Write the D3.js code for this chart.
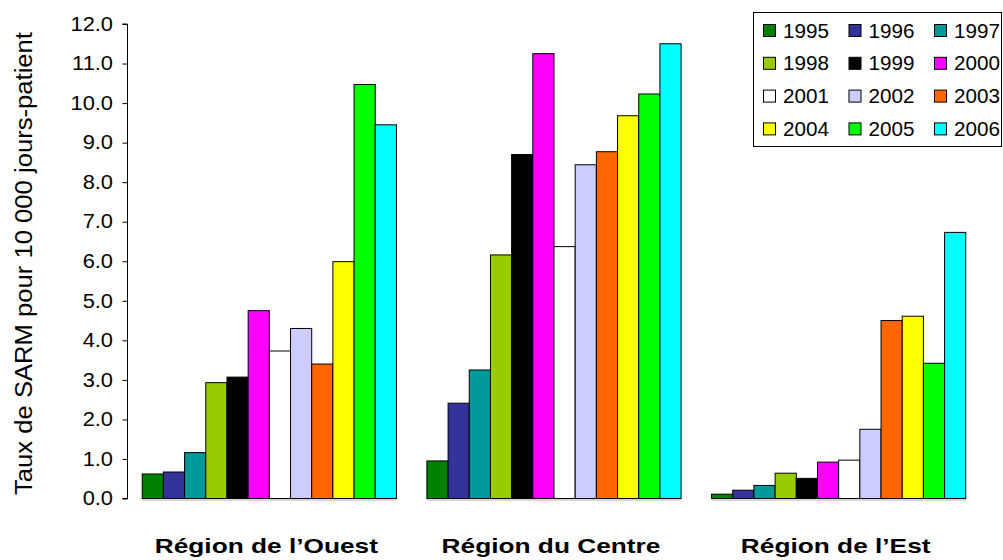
<!DOCTYPE html>
<html><head><meta charset="utf-8">
<script src="https://cdn.jsdelivr.net/npm/d3@7"></script>
<style>body{margin:0;background:#fff}svg{display:block}text{font-family:"Liberation Sans",Arial,sans-serif}</style>
</head><body><svg id="c" width="1003" height="560"></svg>
<script>
const regions = ["Région de l’Ouest", "Région du Centre", "Région de l’Est"];
const years = ["1995","1996","1997","1998","1999","2000","2001","2002","2003","2004","2005","2006"];
const colors = ["#008000","#333399","#009999","#99CC00","#000000","#FF00FF","#FFFFFF","#CCCCFF","#FF6600","#FFFF00","#00FF00","#00FFFF"];
const ouest = [0.62,0.67,1.16,2.93,3.07,4.75,3.73,4.30,3.40,5.99,10.47,9.45];
const centre = [0.95,2.41,3.25,6.16,8.70,11.25,6.37,8.44,8.77,9.68,10.23,11.50];
const est = [0.11,0.21,0.33,0.64,0.51,0.92,0.97,1.75,4.50,4.61,3.42,6.73];
const yTicks = [0,1,2,3,4,5,6,7,8,9,10,11,12];
const yTitle = "Taux de SARM pour 10 000 jours-patient";
const series = [ouest, centre, est];

function stretch(sel, k) {
  sel.each(function(){
    const l = this.getComputedTextLength();
    d3.select(this).attr("textLength", l * k).attr("lengthAdjust", "spacingAndGlyphs");
  });
}

const svg = d3.select("#c");
const x0 = d3.scaleBand().domain(regions).range([127, 981]).paddingInner(0.107).paddingOuter(0.0535);
const x1 = d3.scaleBand().domain(years).range([0, x0.bandwidth()]);
const y = d3.scaleLinear().domain([0, 12]).range([498.5, 24]);

// y axis
const yAxis = d3.axisLeft(y).tickValues(yTicks).tickFormat(d3.format(".1f")).tickSize(5).tickPadding(9.5);
const ga = svg.append("g").attr("transform", "translate(127.5,0)").call(yAxis);
ga.select(".domain").attr("stroke", "#000").attr("d", "M-5," + y(12) + "H0V" + y(0) + "H-5");
ga.selectAll(".tick line").attr("stroke", "#000");
const tt = ga.selectAll(".tick text").attr("font-size", 19.5).attr("fill", "#000")
  .style("font-family", "'Liberation Sans',Arial,sans-serif");
stretch(tt, 1.12);

// bars
const groups = svg.selectAll("g.grp").data(regions).enter().append("g").attr("class","grp")
  .attr("transform", d => `translate(${x0(d)},0)`);
groups.append("line")
  .attr("x1", 0).attr("x2", x0.bandwidth()).attr("y1", y(0)+1.5).attr("y2", y(0)+1.5)
  .attr("stroke", "#d8d8d8").attr("stroke-width", 2);
groups.each(function(r, gi){
  d3.select(this).selectAll("rect").data(series[gi]).enter().append("rect")
    .attr("x", (d,i) => x1(years[i]))
    .attr("y", d => y(d))
    .attr("width", x1.bandwidth())
    .attr("height", d => y(0) - y(d))
    .attr("fill", (d,i) => colors[i])
    .attr("stroke", "#000").attr("stroke-width", 1);
});

// category labels
const cl = svg.selectAll("text.cat").data(regions).enter().append("text").attr("class","cat")
  .attr("x", d => x0(d) + x0.bandwidth()/2 - 3).attr("y", 553)
  .attr("text-anchor", "middle").attr("font-size", 21).attr("font-weight", "bold").text(d => d);
stretch(cl, 1.25);

// y title
svg.append("text").attr("transform", "translate(32,263.5) rotate(-90)")
  .attr("text-anchor", "middle").attr("font-size", 23.3)
  .attr("textLength", 463).attr("lengthAdjust", "spacingAndGlyphs").text(yTitle);

// legend
const lg = svg.append("g");
lg.append("rect").attr("x", 753.5).attr("y", 12.5).attr("width", 248).attr("height", 134)
  .attr("fill", "#fff").attr("stroke", "#000").attr("stroke-width", 1);
years.forEach((yr, i) => {
  const col = i % 3, row = Math.floor(i / 3);
  const lx = 763 + col * 85.5, ly = 30.5 + row * 32.8;
  lg.append("rect").attr("x", lx + 0.5).attr("y", ly - 6).attr("width", 12).attr("height", 12)
    .attr("fill", colors[i]).attr("stroke", "#000").attr("stroke-width", 1);
  const t = lg.append("text").attr("x", lx + 20).attr("y", ly + 7).attr("font-size", 19.5).text(yr);
  stretch(t, 1.06);
});
</script></body></html>
